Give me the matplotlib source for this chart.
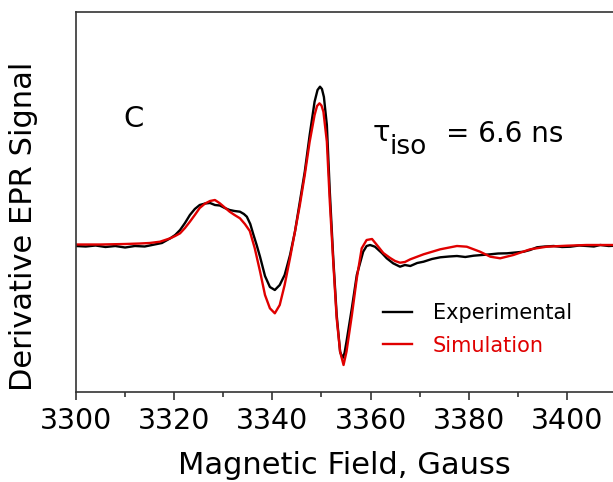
"""EPR spectrum, panel C: experimental vs simulated derivative signal."""
import matplotlib
matplotlib.use("Agg")
import matplotlib.pyplot as plt
from matplotlib.ticker import MultipleLocator

# Experimental trace (field in Gauss, signal in arbitrary units, baseline = 0)
exp_field = [3300, 3302, 3304, 3306, 3308, 3310, 3312, 3314, 3316, 3317.5,
             3319.2, 3320.2, 3321.2, 3322.2, 3323.2, 3324.2, 3325.2, 3326.3,
             3327.3, 3328.3, 3329.3, 3330.3, 3331.3, 3332.3, 3333.4, 3334.2,
             3334.8, 3335.5, 3336.1, 3336.8, 3337.5, 3338.5, 3339.5, 3340.5,
             3341.5, 3342.5, 3343.0, 3343.6, 3344.6, 3345.6, 3346.6, 3347.6,
             3348.6, 3349.2, 3349.7, 3350.1, 3350.5, 3351.1, 3351.7, 3352.4,
             3353.1, 3353.8, 3354.3, 3354.7, 3355.1, 3356.2, 3357.2, 3358.5,
             3359.2, 3359.9, 3360.9, 3362.3, 3363.3, 3364.6, 3366, 3367,
             3368.1, 3369.5, 3370.8, 3372.5, 3374.2, 3376, 3377.6, 3379.3,
             3381, 3382.7, 3384.4, 3386, 3387.8, 3389.5, 3391.2, 3392.5,
             3393.9, 3395.5, 3397.3, 3399, 3400.7, 3402.5, 3404.1, 3405.5,
             3406.8, 3408.5, 3410]
exp_signal = [-1, -1.5, -0.5, -2, -1, -2.5, -1, -1.5, 0.5, 2,
              6.7, 10, 15, 22, 30, 36, 40, 41.5,
              42, 40, 39.5, 37, 35, 34, 33.3, 31,
              28.3, 21, 11, 0, -12, -31, -42, -45,
              -40, -30, -21, -10, 13.3, 43.3, 73.3, 110,
              143.3, 155, 158.3, 156, 148, 120, 53.3, -13,
              -70, -106.7, -113.3, -108, -96.7, -63, -30, -6.7,
              -1, 0, -1.7, -8, -13.3, -18.3, -21.7, -20,
              -21, -18, -16.7, -14, -12.3, -11.5, -11, -12,
              -10.7, -10, -9.3, -8.5, -8.3, -7.5, -6.7, -5,
              -2.3, -1.5, -1, -2, -1.7, -0.5, -1, -1.5,
              0, -1, -0.7]

# Simulated trace
sim_field = [3300, 3305, 3310, 3313, 3315, 3317.1, 3319.2, 3320.2, 3321.2,
             3322.2, 3323.2, 3324.2, 3325.2, 3326.3, 3327.3, 3328.3, 3329.3,
             3330.3, 3331.3, 3332.3, 3333.4, 3334.4, 3335.4, 3336.4, 3337.5,
             3338.5, 3339.5, 3340.5, 3341.5, 3342.5, 3343.6, 3344.6, 3345.6,
             3346.6, 3347.6, 3348.6, 3349.1, 3349.6, 3350.0, 3350.4, 3351.1,
             3351.7, 3352.4, 3353.1, 3353.8, 3354.5, 3355.1, 3356.2, 3357.2,
             3358.2, 3359.2, 3360.3, 3361.3, 3362.6, 3364, 3365, 3366, 3367,
             3368.1, 3370.8, 3374.2, 3377.6, 3379.6, 3382.3, 3384.4, 3386.4,
             3389.1, 3392.5, 3395.9, 3400, 3404, 3410]
sim_signal = [0.5, 0.5, 1, 1.5, 2, 3.3, 6.7, 9, 11.7,
              17, 23.3, 30, 37, 41.5, 44, 45, 41.7,
              37.5, 33.3, 30, 26.7, 21, 14, -3, -26.7,
              -50, -63.3, -68.3, -60, -40, -13, 13.3, 40,
              70, 103.3, 130, 139, 141.7, 139.5, 133.3, 103.3,
              43.3, -16.7, -73.3, -106.7, -120, -106.7, -70, -33.3,
              -3.3, 5, 6, 0, -8, -13, -16, -17.7, -17,
              -14.3, -9.3, -4.3, -1, -1.7, -6.7, -11.7, -13.3,
              -10, -4.3, -1.7, -0.7, 0, 0]

series_labels = ["Experimental", "Simulation"]
panel_label = "C"
tau_value = "= 6.6 ns"

W, H = 613, 482


def fx(px):
    return px / W


def fy(py):
    return 1 - py / H


fig = plt.figure(figsize=(W / 100, H / 100), dpi=100)
ax = fig.add_axes([fx(76), fy(391.5), fx(616) - fx(76), fy(12) - fy(391.5)])

red = "#e00000"
ax.plot(exp_field, exp_signal, color="black", lw=1.7, label=series_labels[0])
ax.plot(sim_field, sim_signal, color=red, lw=1.7, label=series_labels[1])

ax.set_xlim(3300, 3410)
ax.set_ylim(-146.5, 233)
ax.xaxis.set_major_locator(MultipleLocator(20))
ax.xaxis.set_minor_locator(MultipleLocator(10))
ax.set_yticks([])
for side in ("left", "bottom", "top", "right"):
    ax.spines[side].set_color("#333333")
    ax.spines[side].set_linewidth(1.2)
ax.tick_params(axis="x", which="major", direction="out", length=6, width=1.2,
               labelsize=20.5, pad=5, color="#333333")
ax.tick_params(axis="x", which="minor", direction="out", length=3.5, width=1.2,
               color="#333333")

fig.text(fx(24), fy(226), "Derivative EPR Signal", rotation=90,
         ha="center", va="center", fontsize=22)
fig.text(fx(344), fy(474), "Magnetic Field, Gauss", ha="center",
         va="baseline", fontsize=22)

fig.text(fx(134), fy(119), panel_label, ha="center", va="center", fontsize=21)
fig.text(fx(373), fy(141), "\u03c4", ha="left", va="baseline", fontsize=21)
fig.text(fx(389), fy(154), "iso", ha="left", va="baseline", fontsize=19)
fig.text(fx(446), fy(142), tau_value, ha="left", va="baseline", fontsize=20)

leg = ax.legend(loc="upper left", bbox_to_anchor=(fx(383), fy(303)),
                bbox_transform=fig.transFigure, frameon=False, fontsize=15,
                handlelength=1.4, handletextpad=1.0, labelspacing=0.6,
                borderpad=0, borderaxespad=0, labelcolor="linecolor")

fig.savefig("out.png", dpi=100)
